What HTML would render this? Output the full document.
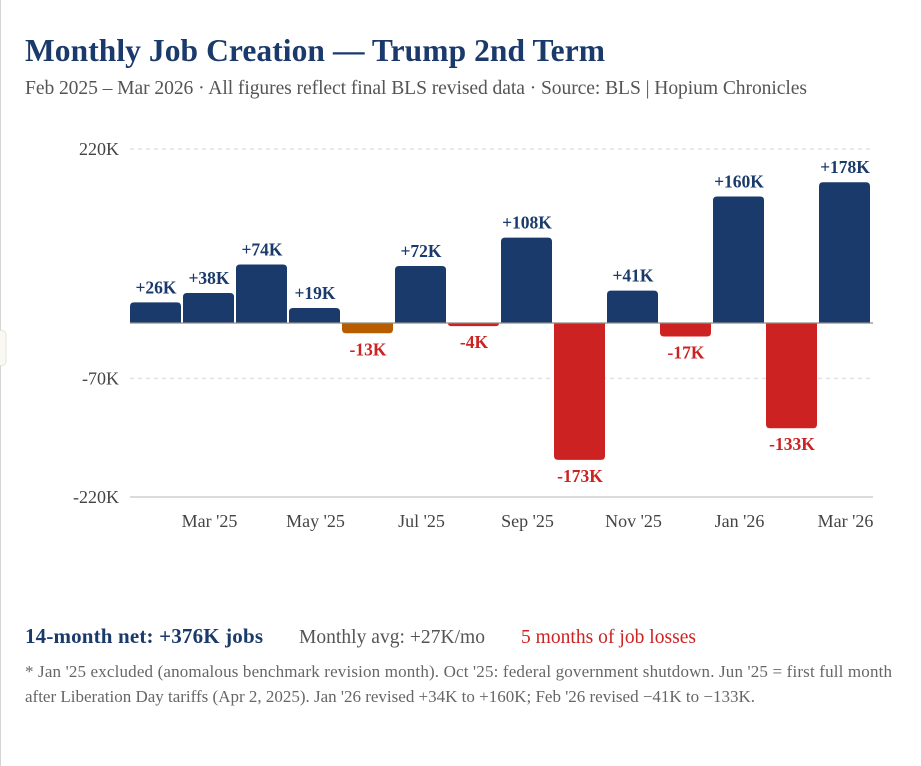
<!DOCTYPE html>
<html lang="en">
<head>
<meta charset="utf-8">
<title>Monthly Job Creation</title>
<style>
html,body{margin:0;padding:0;background:#fff;width:921px;height:766px;overflow:hidden}
svg{display:block;position:absolute;left:0;top:0}
text{font-family:"Liberation Serif",serif}
</style>
</head>
<body>
<svg id="root" width="921" height="766" viewBox="0 0 921 766" xmlns="http://www.w3.org/2000/svg">
  <rect x="0" y="0" width="1" height="766" fill="#d4d4d0"/>
  <rect x="-6" y="330.5" width="12" height="35" rx="4" fill="#f9f8f3" stroke="#e6e5df"/>
  <text x="25" y="61" font-size="31.5" font-weight="700" fill="#1a3a6b" textLength="580" lengthAdjust="spacing">Monthly Job Creation — Trump 2nd Term</text>
  <text x="25" y="94" font-size="19.6" fill="#555" textLength="782" lengthAdjust="spacing">Feb 2025 – Mar 2026 · All figures reflect final BLS revised data · Source: BLS | Hopium Chronicles</text>
  <g id="grid"></g>
  <g id="yaxis"></g>
  <g id="bars"></g>
  <g id="labels"></g>
  <g id="xaxis"></g>
  <text x="25" y="643" font-size="21" font-weight="700" fill="#1a3a6b" textLength="238" lengthAdjust="spacing">14-month net: +376K jobs</text>
  <text x="299" y="643" font-size="19.5" fill="#555" textLength="186" lengthAdjust="spacing">Monthly avg: +27K/mo</text>
  <text x="521" y="643" font-size="19.5" fill="#cc2222" textLength="175" lengthAdjust="spacing">5 months of job losses</text>
  <text x="25" y="677" font-size="17" fill="#666" textLength="867" lengthAdjust="spacing">* Jan '25 excluded (anomalous benchmark revision month). Oct '25: federal government shutdown. Jun '25 = first full month</text>
  <text x="25" y="702" font-size="17" fill="#666" textLength="730" lengthAdjust="spacing">after Liberation Day tariffs (Apr 2, 2025). Jan '26 revised +34K to +160K; Feb '26 revised −41K to −133K.</text>
</svg>
<script>
const months = ["Feb '25","Mar '25","Apr '25","May '25","Jun '25","Jul '25","Aug '25","Sep '25","Oct '25","Nov '25","Dec '25","Jan '26","Feb '26","Mar '26"];
const jobChanges = [26,38,74,19,-13,72,-4,108,-173,41,-17,160,-133,178];
const highlightMonths = ["Jun '25"];
const yTicks = [220,-70,-220];
const xTickMonths = ["Mar '25","May '25","Jul '25","Sep '25","Nov '25","Jan '26","Mar '26"];

const NS = 'http://www.w3.org/2000/svg';
const plotLeft = 130, plotRight = 873, plotTop = 149, plotBottom = 497;
const yMin = -220, yMax = 220;
const bandStep = 53, barWidth = 51, radius = 4;
function yScale(v){ return plotBottom - (v - yMin) / (yMax - yMin) * (plotBottom - plotTop); }
function xScale(i){ return plotLeft + i * bandStep; }
function make(tag, attrs, text){
  const el = document.createElementNS(NS, tag);
  for (const k in attrs) el.setAttribute(k, attrs[k]);
  if (text !== undefined) el.textContent = text;
  return el;
}
function fmt(v){ return (v > 0 ? '+' : '-') + Math.abs(v) + 'K'; }
function barPath(x, y0, y1, w, r){
  const up = y1 < y0, s = up ? 1 : -1;
  const rr = Math.min(r, Math.abs(y1 - y0));
  return 'M' + x + ' ' + y0 + 'V' + (y1 + s * rr) + 'Q' + x + ' ' + y1 + ' ' + (x + rr) + ' ' + y1 +
         'H' + (x + w - rr) + 'Q' + (x + w) + ' ' + y1 + ' ' + (x + w) + ' ' + (y1 + s * rr) + 'V' + y0 + 'Z';
}

const gridG = document.getElementById('grid');
const yG = document.getElementById('yaxis');
yTicks.forEach(function(t){
  const y = yScale(t);
  const isBase = t === yMin;
  const line = make('line', {x1: plotLeft, x2: plotRight, y1: y, y2: y,
    stroke: isBase ? '#cfcfcf' : '#e2e2e2', 'stroke-width': 1.6,
    'stroke-dasharray': isBase ? 'none' : '4 4'});
  
  
  gridG.appendChild(line);
  const lab = make('text', {x: 119, y: y + 6, 'text-anchor': 'end', 'font-size': 18, fill: '#444'}, t + 'K');
  
  
  yG.appendChild(lab);
});

const barsG = document.getElementById('bars');
const labelsG = document.getElementById('labels');
jobChanges.forEach(function(v, i){
  const x = xScale(i), y0 = yScale(0), y1 = yScale(v);
  let color = v >= 0 ? '#1a3a6b' : '#cc2222';
  if (highlightMonths.indexOf(months[i]) >= 0) color = '#b85c00';
  const bar = make('path', {d: barPath(x, y0, y1, barWidth, radius), fill: color});
  
  
  barsG.appendChild(bar);
  const ly = v >= 0 ? y1 - 9 : y1 + 22;
  const lab = make('text', {x: x + barWidth / 2 + 0.5, y: ly, 'text-anchor': 'middle', 'font-size': 17.5,
    'font-weight': 700, fill: v >= 0 ? '#1a3a6b' : '#cc2222'}, fmt(v));
  
  
  labelsG.appendChild(lab);
});

const zero = make('line', {x1: plotLeft, x2: plotRight, y1: yScale(0), y2: yScale(0), stroke: '#8c8c8c', 'stroke-width': 1.3});


barsG.appendChild(zero);

const xG = document.getElementById('xaxis');
xTickMonths.forEach(function(m){
  const i = months.indexOf(m);
  const lab = make('text', {x: xScale(i) + barWidth / 2 + 1, y: 527, 'text-anchor': 'middle', 'font-size': 18, fill: '#444'}, m);
  
  
  xG.appendChild(lab);
});
</script>
</body>
</html>
